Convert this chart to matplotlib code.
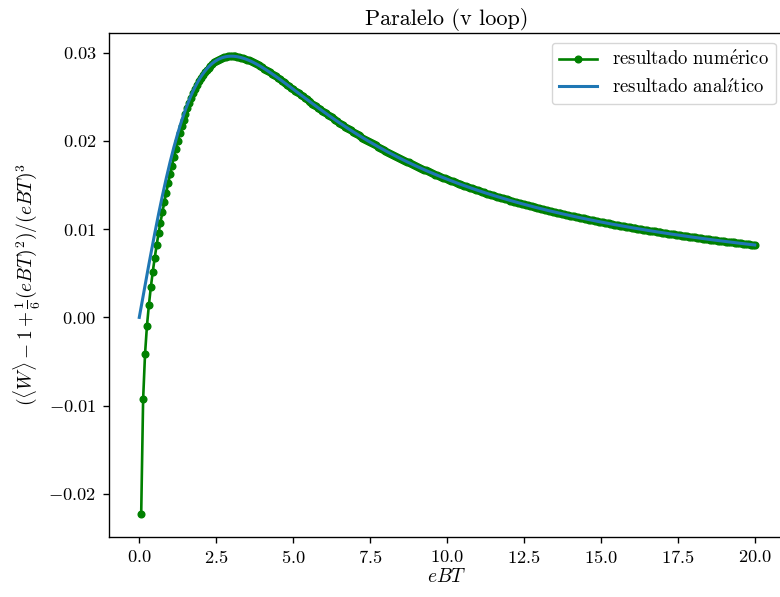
import numpy as np
import matplotlib
matplotlib.use('Agg')
import matplotlib.pyplot as plt

plt.rcParams['font.family'] = 'serif'
plt.rcParams['font.serif'] = ['cmr10']
plt.rcParams['mathtext.fontset'] = 'cm'
plt.rcParams['axes.formatter.use_mathtext'] = True
plt.rcParams['axes.linewidth'] = 0.98
plt.rcParams['xtick.major.size'] = 4.3
plt.rcParams['ytick.major.size'] = 4.3
plt.rcParams['xtick.major.width'] = 0.98
plt.rcParams['ytick.major.width'] = 0.98
plt.rcParams['xtick.major.pad'] = 4.3
plt.rcParams['ytick.major.pad'] = 4.3

# eBT grid (step 1/16)
ebt = np.linspace(0, 20, 321)

# resultado analitico, one value per grid point
analitico = [
    0.0, 0.0012148, 0.0024266, 0.0036324, 0.0048293, 0.0060144, 0.0071851, 0.0083386,
    0.0094723, 0.0105841, 0.0116715, 0.0127326, 0.0137655, 0.0147686, 0.0157403, 0.0166794,
    0.0175848, 0.0184556, 0.0192911, 0.0200907, 0.0208542, 0.0215812, 0.0222721, 0.0229263,
    0.0235451, 0.0241276, 0.0246753, 0.0251884, 0.0256679, 0.0261141, 0.0265283, 0.0269107,
    0.0272634, 0.0275866, 0.0278812, 0.0281486, 0.0283896, 0.0286054, 0.0287969, 0.0289656,
    0.0291122, 0.0292375, 0.0293430, 0.0294294, 0.0294978, 0.0295492, 0.0295844, 0.0296042,
    0.0296099, 0.0296018, 0.0295810, 0.0295483, 0.0295044, 0.0294500, 0.0293856, 0.0293121,
    0.0292301, 0.0291401, 0.0290428, 0.0289386, 0.0288280, 0.0287116, 0.0285900, 0.0284632,
    0.0283319, 0.0281964, 0.0280571, 0.0279146, 0.0277688, 0.0276201, 0.0274690, 0.0273158,
    0.0271604, 0.0270034, 0.0268447, 0.0266850, 0.0265239, 0.0263619, 0.0261993, 0.0260361,
    0.0258724, 0.0257084, 0.0255443, 0.0253802, 0.0252161, 0.0250522, 0.0248887, 0.0247254,
    0.0245627, 0.0244005, 0.0242389, 0.0240780, 0.0239179, 0.0237585, 0.0236001, 0.0234425,
    0.0232859, 0.0231302, 0.0229756, 0.0228220, 0.0226695, 0.0225181, 0.0223678, 0.0222188,
    0.0220709, 0.0219241, 0.0217786, 0.0216342, 0.0214912, 0.0213493, 0.0212087, 0.0210693,
    0.0209312, 0.0207944, 0.0206588, 0.0205245, 0.0203914, 0.0202595, 0.0201289, 0.0199997,
    0.0198715, 0.0197447, 0.0196190, 0.0194946, 0.0193714, 0.0192494, 0.0191287, 0.0190091,
    0.0188907, 0.0187734, 0.0186574, 0.0185425, 0.0184288, 0.0183162, 0.0182048, 0.0180944,
    0.0179852, 0.0178770, 0.0177700, 0.0176640, 0.0175591, 0.0174552, 0.0173524, 0.0172506,
    0.0171498, 0.0170500, 0.0169513, 0.0168535, 0.0167567, 0.0166609, 0.0165661, 0.0164720,
    0.0163791, 0.0162871, 0.0161959, 0.0161057, 0.0160163, 0.0159278, 0.0158401, 0.0157534,
    0.0156676, 0.0155824, 0.0154982, 0.0154148, 0.0153322, 0.0152504, 0.0151694, 0.0150891,
    0.0150096, 0.0149309, 0.0148530, 0.0147754, 0.0146989, 0.0146232, 0.0145482, 0.0144738,
    0.0144002, 0.0143273, 0.0142550, 0.0141834, 0.0141125, 0.0140422, 0.0139726, 0.0139036,
    0.0138352, 0.0137675, 0.0137004, 0.0136339, 0.0135680, 0.0135027, 0.0134379, 0.0133738,
    0.0133102, 0.0132472, 0.0131847, 0.0131228, 0.0130615, 0.0130006, 0.0129403, 0.0128806,
    0.0128213, 0.0127626, 0.0127044, 0.0126467, 0.0125894, 0.0125327, 0.0124765, 0.0124206,
    0.0123653, 0.0123105, 0.0122561, 0.0122022, 0.0121487, 0.0120957, 0.0120432, 0.0119910,
    0.0119393, 0.0118879, 0.0118370, 0.0117866, 0.0117365, 0.0116869, 0.0116376, 0.0115888,
    0.0115404, 0.0114923, 0.0114446, 0.0113972, 0.0113503, 0.0113037, 0.0112576, 0.0112117,
    0.0111663, 0.0111211, 0.0110763, 0.0110319, 0.0109878, 0.0109441, 0.0109007, 0.0108576,
    0.0108148, 0.0107724, 0.0107303, 0.0106884, 0.0106470, 0.0106059, 0.0105650, 0.0105244,
    0.0104842, 0.0104442, 0.0104046, 0.0103652, 0.0103261, 0.0102873, 0.0102488, 0.0102105,
    0.0101726, 0.0101348, 0.0100974, 0.0100603, 0.0100234, 0.0099867, 0.0099504, 0.0099142,
    0.0098784, 0.0098428, 0.0098075, 0.0097723, 0.0097374, 0.0097029, 0.0096684, 0.0096343,
    0.0096004, 0.0095667, 0.0095333, 0.0095001, 0.0094670, 0.0094343, 0.0094017, 0.0093693,
    0.0093372, 0.0093053, 0.0092737, 0.0092422, 0.0092109, 0.0091798, 0.0091489, 0.0091182,
    0.0090878, 0.0090575, 0.0090274, 0.0089976, 0.0089679, 0.0089385, 0.0089091, 0.0088800,
    0.0088511, 0.0088224, 0.0087937, 0.0087654, 0.0087372, 0.0087092, 0.0086813, 0.0086537,
    0.0086261, 0.0085988, 0.0085717, 0.0085446, 0.0085178, 0.0084912, 0.0084647, 0.0084383,
    0.0084121, 0.0083861, 0.0083603, 0.0083346, 0.0083090, 0.0082836, 0.0082583, 0.0082333,
    0.0082083,
]

# resultado numerico: differs from the analytic curve only at small eBT
numerico_bajo = [
    -0.022265, -0.009293, -0.004128, -0.000941, 0.001404, 0.003405, 0.005159, 0.006702,
    0.008154, 0.009511, 0.010753, 0.011916, 0.013049, 0.014130, 0.015179, 0.016205,
    0.017206, 0.018181, 0.019121, 0.020014, 0.020851, 0.021642, 0.022386, 0.023085,
    0.023728, 0.024335, 0.024898, 0.025418, 0.025904, 0.026348, 0.026761, 0.027133,
    0.027477, 0.027791, 0.028069, 0.028320, 0.028545, 0.028747, 0.028926, 0.029072,
    0.029208, 0.029313, 0.029409, 0.029478, 0.029539, 0.029574,
]
numerico = numerico_bajo + analitico[len(numerico_bajo) + 1:]
ebt_num = ebt[1:]

fig = plt.figure(figsize=(7.8, 5.97), dpi=100)
ax = fig.add_axes([108.5 / 780, 60.3 / 597, 677 / 780, 503.4 / 597])

ax.plot(ebt_num, numerico, '-o', color='green', markersize=4.8, linewidth=1.9,
        label=r'$\mathrm{resultado\ num\acute{e}rico}$')
ax.plot(ebt, analitico, '-', color='#1f77b4', linewidth=2.2,
        label=r'$\mathrm{resultado\ anal\acute{\imath}tico}$')

ax.set_xticks([0, 2.5, 5, 7.5, 10, 12.5, 15, 17.5, 20])
ax.tick_params(labelsize=13.3)
ax.set_xlabel(r'$eBT$', fontsize=14, labelpad=2)
ax.set_ylabel(r'$(\langle W\rangle - 1 + \frac{1}{6}(eBT)^2)/(eBT)^3$', fontsize=14, labelpad=4)
ax.set_title('Paralelo (v loop)', fontsize=16)
ax.legend(loc='upper right', fontsize=13.5)

fig.savefig('out.png', dpi=100)
